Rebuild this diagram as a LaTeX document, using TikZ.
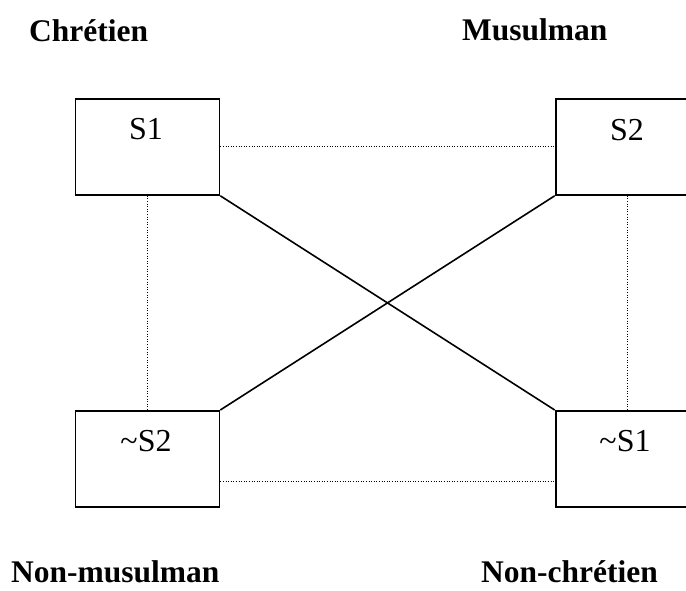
\documentclass[tikz,border=0pt]{standalone}
\usepackage{fontspec}
\setmainfont{Liberation Serif}
\begin{document}
\begin{tikzpicture}[x=1pt,y=-1pt,
  box/.style={draw,line width=1.8pt,minimum width=144pt,minimum height=96pt,inner sep=0pt,anchor=north west},
  boxtext/.style={anchor=base,inner sep=0pt,font=\fontsize{32}{38}\selectfont},
  heading/.style={anchor=base west,inner sep=0pt,font=\fontsize{31.5}{38}\selectfont\bfseries},
  dotline/.style={line width=1pt,dash pattern=on 1pt off 1.6pt},
  cross/.style={line width=1.6pt}]
\clip (0,0) rectangle (686,590);
\node[box] (s1) at (74.5,98) {};
\node[box] (s2) at (554.7,98) {};
\node[box] (ns2) at (74.5,410) {};
\node[box] (ns1) at (554.7,410) {};
\node[boxtext] (t1) at (146,139.5) {S1};
\node[boxtext] (t2) at (627,140) {S2};
\node[boxtext] (t3) at (146,451.5) {\char`\~S2};
\node[boxtext] (t4) at (625,451.5) {\char`\~S1};
\node[heading] (h1) at (29,41) {Chrétien};
\node[heading] (h2) at (462,40) {Musulman};
\node[heading] (h3) at (11,582) {Non-musulman};
\node[heading] (h4) at (481,582) {Non-chrétien};
\draw[cross] (s1.south east) -- (ns1.north west);
\draw[cross] (s2.south west) -- (ns2.north east);
\draw[dotline] (s1.east) -- (s2.west);
\draw[dotline] (s1.south) -- (ns2.north);
\draw[dotline] (s2.south) -- (ns1.north);
\draw[dotline] (ns2.east |- 0,481) -- (ns1.west |- 0,481);
\end{tikzpicture}
\end{document}
